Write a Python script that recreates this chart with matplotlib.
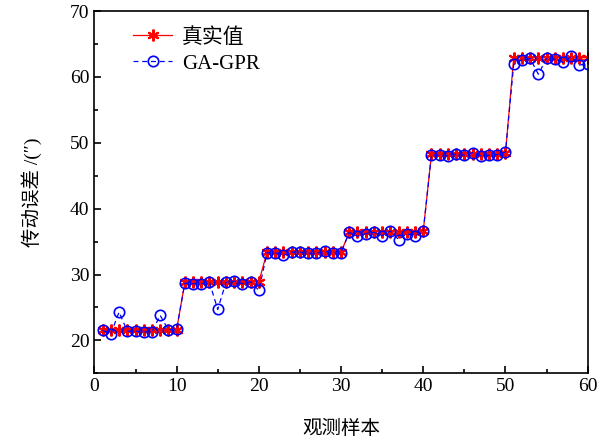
import numpy as np
import matplotlib
matplotlib.use('Agg')
import matplotlib.pyplot as plt
from matplotlib.ticker import MultipleLocator

plt.rcParams['font.family'] = ['Liberation Serif', 'Noto Sans CJK SC', 'DejaVu Sans']
plt.rcParams['axes.unicode_minus'] = False

# DATA
samples = list(range(1, 61))
true_vals = [21.5, 21.5, 21.5, 21.5, 21.5, 21.5, 21.5, 21.5, 21.5, 21.6,
             28.8, 28.8, 28.8, 28.8, 28.8, 28.8, 28.8, 28.8, 28.8, 28.9,
             33.4, 33.4, 33.4, 33.4, 33.4, 33.4, 33.4, 33.4, 33.4, 33.4,
             36.4, 36.4, 36.4, 36.5, 36.5, 36.5, 36.4, 36.4, 36.4, 36.6,
             48.3, 48.3, 48.3, 48.3, 48.3, 48.3, 48.3, 48.3, 48.3, 48.4,
             62.9, 62.9, 62.9, 62.9, 62.9, 62.9, 62.9, 62.9, 62.9, 62.9]
pred_vals = [21.5, 21.0, 24.3, 21.4, 21.4, 21.3, 21.3, 23.8, 21.6, 21.7,
             28.7, 28.6, 28.6, 28.8, 24.7, 28.8, 29.0, 28.6, 28.9, 27.6,
             33.3, 33.3, 32.9, 33.4, 33.4, 33.2, 33.2, 33.5, 33.3, 33.3,
             36.4, 35.8, 36.2, 36.4, 35.9, 36.6, 35.3, 36.2, 35.8, 36.6,
             48.2, 48.1, 48.0, 48.3, 48.1, 48.5, 48.0, 48.1, 48.2, 48.6,
             61.9, 62.6, 62.8, 60.4, 62.8, 62.7, 62.2, 63.1, 61.8, 62.0]

# PLOTTING
fig = plt.figure(figsize=(6.09, 4.41), dpi=100)
ax = fig.add_axes([0.155, 0.1535, 0.81, 0.8215])

ax.plot(samples, true_vals, color='red', linewidth=0.9, marker=(6, 2, 0),
        markersize=8.5, markeredgewidth=1.5, markeredgecolor='red', label='真实值')
ax.plot(samples, pred_vals, color='blue', linewidth=0.9, linestyle=(0, (4, 3)),
        marker='o', markersize=7.5, markerfacecolor='none', markeredgecolor='blue',
        markeredgewidth=1.2, label='GA-GPR')

ax.set_xlim(0, 60)
ax.set_ylim(15, 70)
ax.set_xticks(range(0, 61, 10))
ax.set_yticks(range(20, 71, 10))
ax.xaxis.set_minor_locator(MultipleLocator(5))
ax.yaxis.set_minor_locator(MultipleLocator(5))
ax.tick_params(which='both', direction='in', top=False, right=False, labelsize=14)
ax.tick_params(which='major', length=5, width=1.2)
ax.tick_params(which='minor', length=3, width=1.2)
for s in ax.spines.values():
    s.set_linewidth(1.2)

ax.set_xlabel('观测样本', fontsize=14, labelpad=18)
ax.set_ylabel('传动误差 /(″)', fontsize=14, labelpad=20)

ax.legend(loc='upper left', bbox_to_anchor=(0.04, 1.005), frameon=False,
          fontsize=15, handlelength=1.9, handletextpad=0.45, labelspacing=0.3)

plt.savefig('out.png', dpi=100)
